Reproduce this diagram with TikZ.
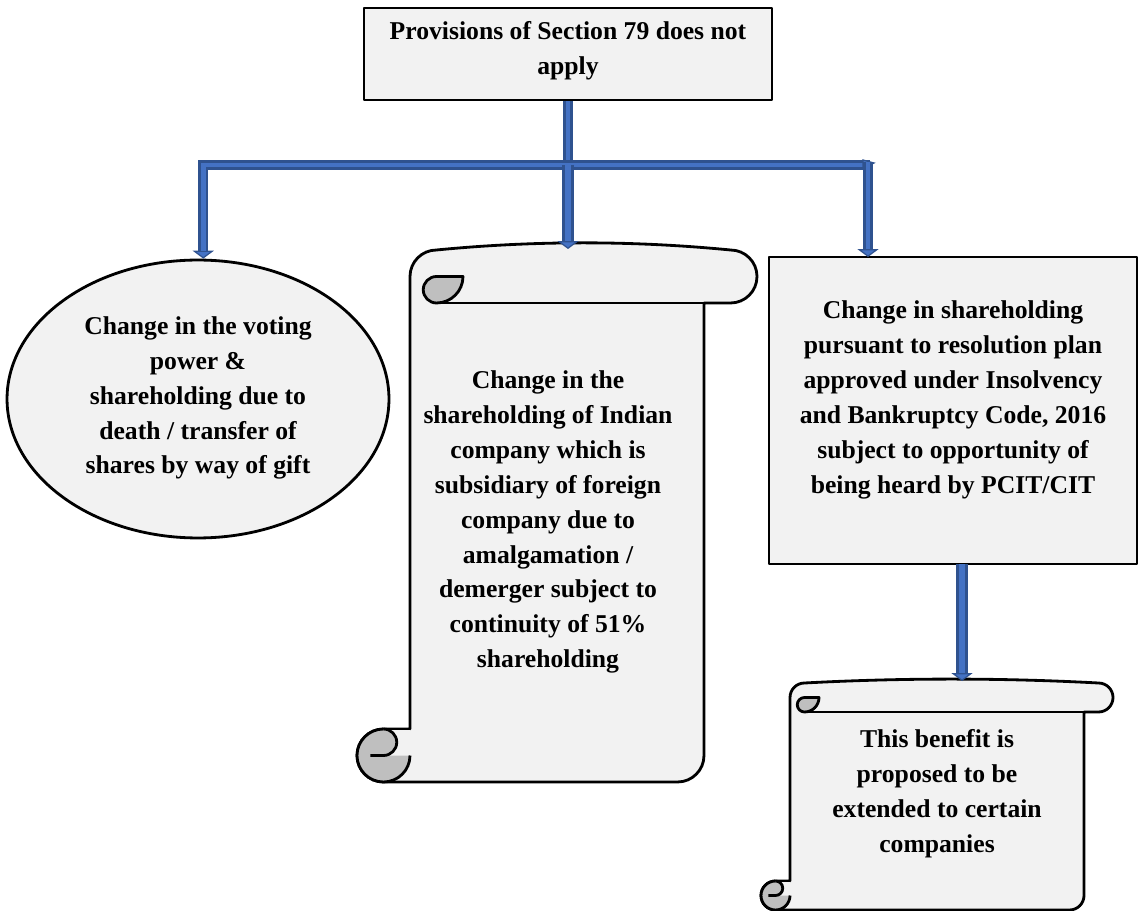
\documentclass[tikz,border=0pt]{standalone}
\usepackage{fontspec}
\setmainfont{Liberation Serif}
\usetikzlibrary{shapes.geometric,arrows.meta}
\definecolor{boxfill}{HTML}{F2F2F2}
\definecolor{curlgray}{HTML}{BFBFBF}
\definecolor{bluemain}{HTML}{4472C4}
\definecolor{bluedark}{HTML}{2F528F}
\tikzset{
  outl/.style={draw=black, line width=1.6pt, line join=round},
  txt/.style={align=center, font=\bfseries\fontsize{14.6}{19.9}\selectfont, inner sep=0pt},
  boxshape/.style={outl, fill=boxfill, rectangle, inner sep=0pt},
  darkc/.style={draw=bluedark, line width=5.6pt},
  lightc/.style={draw=bluemain, line width=2.8pt},
  tipd/.style={-{Triangle[width=12pt,length=4.5pt,fill=bluemain,line width=0.7pt]}},
  tipl/.style={shorten >=4.5pt},
}
% vertical scroll: L T R B c (pixel units, y down)
\newcommand{\vscroll}[6]{%
  \pgfmathsetmacro{\scL}{#1}\pgfmathsetmacro{\scT}{#2}%
  \pgfmathsetmacro{\scR}{#3}\pgfmathsetmacro{\scB}{#4}%
  \pgfmathsetmacro{\scC}{#5}\pgfmathsetmacro{\scH}{#5/2}%
  \pgfmathsetmacro{\scQ}{#5/4}\pgfmathsetmacro{\scW}{#3-#1-2*#5}%
  \pgfmathsetmacro{\scD}{#5*0.18}%
  \path[outl, fill=boxfill]
    (\scL+\scH,\scB) -- (\scR-\scC-\scH,\scB)
    arc[start angle=90, end angle=0, radius=\scH]
    -- (\scR-\scC,\scT+\scC) -- (\scR-\scH,\scT+\scC)
    arc[start angle=90, end angle=-90, radius=\scH]
    .. controls (\scR-\scH-\scW/3,\scT-\scD) and (\scL+\scC+\scH+\scW/3,\scT-\scD) .. (\scL+\scC+\scH,\scT)
    arc[start angle=-90, end angle=-180, radius=\scH]
    -- (\scL+\scC,\scB-\scC) -- (\scL+\scH,\scB-\scC)
    arc[start angle=-90, end angle=-270, radius=\scH] -- cycle;
  % top-left curl
  \path[outl, fill=curlgray]
    (\scL+\scC+\scH,\scT+\scH) -- (\scL+2*\scC,\scT+\scH)
    arc[start angle=0, end angle=90, radius=\scH]
    arc[start angle=90, end angle=270, radius=\scQ] -- cycle;
  \draw[outl] (\scL+\scC+\scH,\scT+\scC) -- (\scR-\scC,\scT+\scC);
  % bottom-left curl
  \fill[curlgray] (\scL+\scH,\scB-\scH) circle[radius=\scH];
  \fill[boxfill] (\scL+\scH,\scB-\scC) -- (\scL+\scC,\scB-\scC) -- (\scL+\scC,\scB-\scH)
    -- (\scL+\scH,\scB-\scH) arc[start angle=90, end angle=-90, radius=\scQ] -- cycle;
  \draw[outl] (\scL+\scH,\scB-\scC) arc[start angle=-90, end angle=-360, radius=\scH];
  \draw[outl] (\scL+\scQ,\scB-\scH) -- (\scL+\scH,\scB-\scH)
    arc[start angle=90, end angle=-90, radius=\scQ];
  \draw[outl] (\scL+\scH,\scB-\scC) -- (\scL+\scC,\scB-\scC) -- (\scL+\scC,\scB-\scC-2);
  \coordinate (#6) at ({(\scL+\scR)/2+11},\scT-\scD*0.75);
}
\begin{document}
\begin{tikzpicture}[x=0.02cm, y=-0.02cm]
\useasboundingbox (0,0) rectangle (1138,911);

% top box
\node[boxshape, minimum width=8.16cm, minimum height=1.84cm] (top) at (568,54) {};
\node[txt] (toptext) at (568,51) {Provisions of Section 79 does not\\apply};

% ellipse
\node[outl, fill=boxfill, ellipse, minimum width=7.64cm, minimum height=5.56cm, inner sep=0pt] (ell) at (198,399) {};
\node[txt] (elltext) at (198,398) {Change in the voting\\power \&\\shareholding due to\\death / transfer of\\shares by way of gift};

% middle scroll
\vscroll{357}{250}{757}{782}{53}{mst}
\node[txt] (midtext) at (548,522) {Change in the\\shareholding of Indian\\company which is\\subsidiary of foreign\\company due to\\amalgamation /\\demerger subject to\\continuity of 51\%\\shareholding};

% right box
\node[boxshape, minimum width=7.36cm, minimum height=6.14cm] (rect) at (953,410.5) {};
\node[txt] (recttext) at (953,400) {Change in shareholding\\pursuant to resolution plan\\approved under Insolvency\\and Bankruptcy Code, 2016\\subject to opportunity of\\being heard by PCIT/CIT};

% small scroll
\vscroll{761}{683}{1113}{910}{29}{sst}
\node[txt] (smalltext) at (937,794) {This benefit is\\proposed to be\\extended to certain\\companies};

% connectors
\coordinate (j) at (568,165);
\coordinate (cr) at (870,165);
\coordinate (rin) at (868,257);
\coordinate (rb) at (962,564);
\coordinate (sin) at (962,681);
\coordinate (mtop) at (568,249);

\draw[darkc] (top.south) -- (j);
\draw[lightc] (top.south) -- (j);
\draw[darkc, tipd] (j) -| ([xshift=3pt]ell.north);
\draw[lightc, tipl] (j) -| ([xshift=3pt]ell.north);
\draw[darkc] (j) -- (cr);
\draw[lightc] (j) -- (cr);
\draw[bluedark, fill=bluemain, line width=0.7pt] (863,160) -- (874,163) -- (863,168) -- cycle;
\draw[darkc, tipd] (868,162) -- (rin);
\draw[lightc, tipl] (868,162) -- (rin);
\draw[darkc, tipd, line width=6.4pt] (j) -- (mtop);
\draw[lightc, tipl, line width=3.4pt] (j) -- (mtop);
\draw[darkc, tipd, line width=6.4pt] (rb) -- (sin);
\draw[lightc, tipl, line width=3.4pt] (rb) -- (sin);
\end{tikzpicture}
\end{document}
